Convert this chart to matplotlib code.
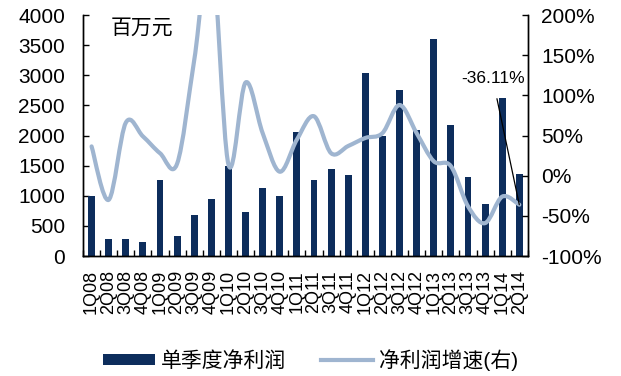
import matplotlib
matplotlib.use("Agg")
import matplotlib.pyplot as plt
from matplotlib.path import Path
from matplotlib.patches import PathPatch
from matplotlib.lines import Line2D
from matplotlib.ticker import FuncFormatter, MultipleLocator
import numpy as np

plt.rcParams['font.family'] = ['Liberation Sans', 'Noto Sans CJK SC', 'DejaVu Sans']

quarters = ["1Q08", "2Q08", "3Q08", "4Q08", "1Q09", "2Q09", "3Q09", "4Q09",
            "1Q10", "2Q10", "3Q10", "4Q10", "1Q11", "2Q11", "3Q11", "4Q11",
            "1Q12", "2Q12", "3Q12", "4Q12", "1Q13", "2Q13", "3Q13", "4Q13",
            "1Q14", "2Q14"]
net_profit = [1000, 285, 285, 230, 1260, 340, 680, 950,
              1500, 735, 1130, 995, 2060, 1260, 1445, 1340,
              3045, 1990, 2750, 2100, 3600, 2170, 1315, 865,
              2620, 1365]
growth = [36.5, -30, 66, 49, 28, 15, 144, 280,
          14, 116, 53, 5, 45, 74, 28, 37,
          47, 53, 88, 53, 18, 12, -38, -59,
          -26, -36.11]

bar_color = "#0d2d5c"
line_color = "#9fb5d0"

fig = plt.figure(figsize=(6.21, 3.76), dpi=100)
ax = fig.add_axes([0.1337, 0.319, 0.7163, 0.641])
ax2 = ax.twinx()

x = np.arange(len(quarters))
bars = ax.bar(x, net_profit, width=0.4, color=bar_color, zorder=2)

ax.set_xlim(-0.5, len(quarters) - 0.5)
ax.set_ylim(0, 4000)
ax2.set_ylim(-100, 200)

# smoothed growth curve: cubic Bezier segments (Catmull-Rom control points)
pts = np.column_stack([x, growth]).astype(float)
ext = np.vstack([pts[0], pts, pts[-1]])
verts = [tuple(pts[0])]
codes = [Path.MOVETO]
for i in range(len(pts) - 1):
    p0, p1, p2, p3 = ext[i], ext[i + 1], ext[i + 2], ext[i + 3]
    c1 = p1 + (p2 - p0) / 6.0
    c2 = p2 - (p3 - p1) / 6.0
    verts += [tuple(c1), tuple(c2), tuple(p2)]
    codes += [Path.CURVE4] * 3
curve = PathPatch(Path(verts, codes), fill=False, edgecolor=line_color,
                  lw=3.0, capstyle='round', joinstyle='round', zorder=3)
ax2.add_patch(curve)

# value callout for the latest quarter
ax2.annotate(f"{growth[-1]:.2f}%", xy=(x[-1], growth[-1]), xytext=(23.45, 120.5),
             fontsize=12.5, ha='center', va='center',
             arrowprops=dict(arrowstyle='-', color='black', lw=0.9,
                             shrinkA=7, shrinkB=0))

# axes styling
for a in (ax, ax2):
    a.spines['top'].set_visible(False)
    for s in ('left', 'right', 'bottom'):
        a.spines[s].set_linewidth(1.0)
        a.spines[s].set_color('black')

ax.yaxis.set_major_locator(MultipleLocator(500))
ax.tick_params(axis='y', direction='in', length=4, width=1, pad=13, labelsize=15)
ax2.yaxis.set_major_locator(MultipleLocator(50))
ax2.yaxis.set_major_formatter(FuncFormatter(lambda v, p: f"{v:.0f}%"))
ax2.tick_params(axis='y', direction='in', length=4, width=1, pad=9.5, labelsize=15)

ax.set_xticks(x)
ax.set_xticklabels(quarters, rotation=90, fontsize=13)
ax.tick_params(axis='x', which='major', length=0, pad=10)
ax.set_xticks(np.arange(-0.5, len(quarters), 1), minor=True)
ax.tick_params(axis='x', which='minor', direction='in', length=4, width=1)

ax.text(0.063, 0.985, "百万元", transform=ax.transAxes, fontsize=15,
        ha='left', va='top')

handles = [bars, Line2D([], [], color=line_color, lw=3.0)]
fig.legend(handles, ["单季度净利润", "净利润增速(右)"], loc='center',
           bbox_to_anchor=(0.5, 0.043), ncol=2, frameon=False, fontsize=15,
           handlelength=2.5, handleheight=0.45, handletextpad=0.3,
           columnspacing=1.65)

fig.savefig("out.png", dpi=100)
